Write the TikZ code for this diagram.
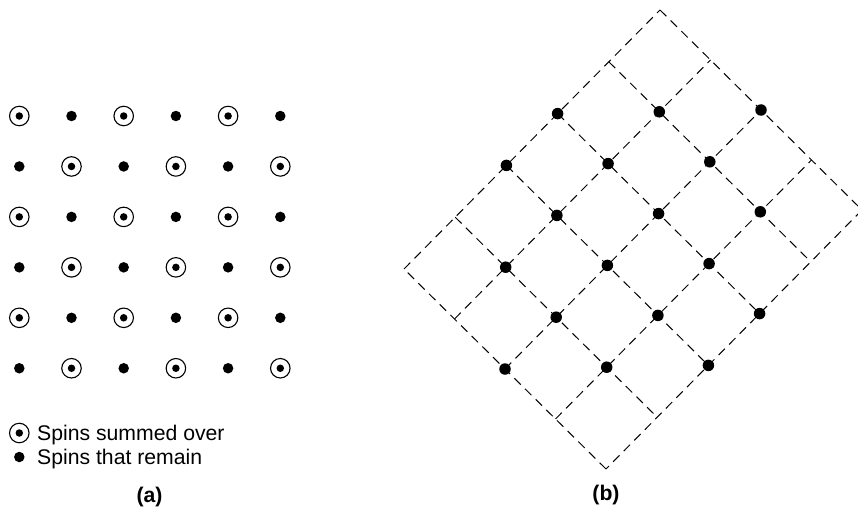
\documentclass[tikz,border=0pt]{standalone}
\usepackage{fontspec}
\setmainfont{Liberation Sans}
\begin{document}
\begin{tikzpicture}[x=1pt,y=-1pt,
  txt/.style={font=\fontsize{21.2}{25}\selectfont, inner sep=0pt},
  spin/.style={circle,fill=black,inner sep=0pt,minimum size=10.5pt},
  ring/.style={circle,draw=black,line width=1.1pt,inner sep=0pt,minimum size=19.5pt},
  core/.style={circle,fill=black,inner sep=0pt,minimum size=7.5pt},
  bdot/.style={circle,fill=black,inner sep=0pt,minimum size=11.5pt},
  gline/.style={line width=1pt,dash pattern=on 9pt off 6pt}]
\useasboundingbox (0,0) rectangle (858,508);

% ---------- (a) ----------
\foreach \i in {0,...,5} {
  \foreach \j in {0,...,5} {
    \pgfmathsetmacro\xx{19.3+52.2*\i}
    \pgfmathsetmacro\yy{116+50.45*\j}
    \pgfmathtruncatemacro\pp{mod(\i+\j,2)}
    \ifnum\pp=0
      \node[ring] (r-\i-\j) at (\xx,\yy) {};
      \node[core] (a-\i-\j) at (\xx,\yy) {};
    \else
      \node[spin] (a-\i-\j) at (\xx,\yy) {};
    \fi
  }
}

% legend
\node[ring] (lr) at (19.3,433) {};
\node[core] (lc) at (19.3,433) {};
\node[txt, anchor=base west] (lt1) at (37,440.7) {Spins summed over};
\node[spin] (ld) at (19.3,457) {};
\node[txt, anchor=base west] (lt2) at (37,464.3) {Spins that remain};
\node[txt, font=\fontsize{21.2}{25}\selectfont\bfseries] (la) at (149.5,496.7) {(a)};

% ---------- (b) ----------
\begin{scope}[shift={(404,269)}, x={(51.2pt,51.8pt)}, y={(50.5pt,-50pt)}]
  \coordinate (L) at (0,0);
  \coordinate (T) at (5,0);
  \coordinate (R) at (5,4);
  \coordinate (B) at (0,4);
  \draw[gline] (L) -- (T);
  \draw[gline] (T) -- (R);
  \draw[gline] (R) -- (B);
  \draw[gline] (B) -- (L);
  \foreach \u in {1,...,4} {
    \coordinate (us-\u) at (\u,0);
    \coordinate (ue-\u) at (\u,4);
    \draw[gline] (us-\u) -- (ue-\u);
  }
  \foreach \v in {1,...,3} {
    \coordinate (vs-\v) at (0,\v);
    \coordinate (ve-\v) at (5,\v);
    \draw[gline] (vs-\v) -- (ve-\v);
  }
  \foreach \d in {-2,...,3} {
    \pgfmathtruncatemacro\od{mod(\d+4,2)}
    \foreach \k in {0,1,2} {
      \pgfmathsetmacro\ss{2+\od+2*\k}
      \pgfmathsetmacro\uu{(\ss+\d)/2}
      \pgfmathsetmacro\vv{(\ss-\d)/2}
      \node[bdot] (b-\d-\k) at (\uu,\vv) {};
    }
  }
\end{scope}
\node[txt, font=\fontsize{21.2}{25}\selectfont\bfseries] (lb) at (606,495.5) {(b)};
\end{tikzpicture}
\end{document}
